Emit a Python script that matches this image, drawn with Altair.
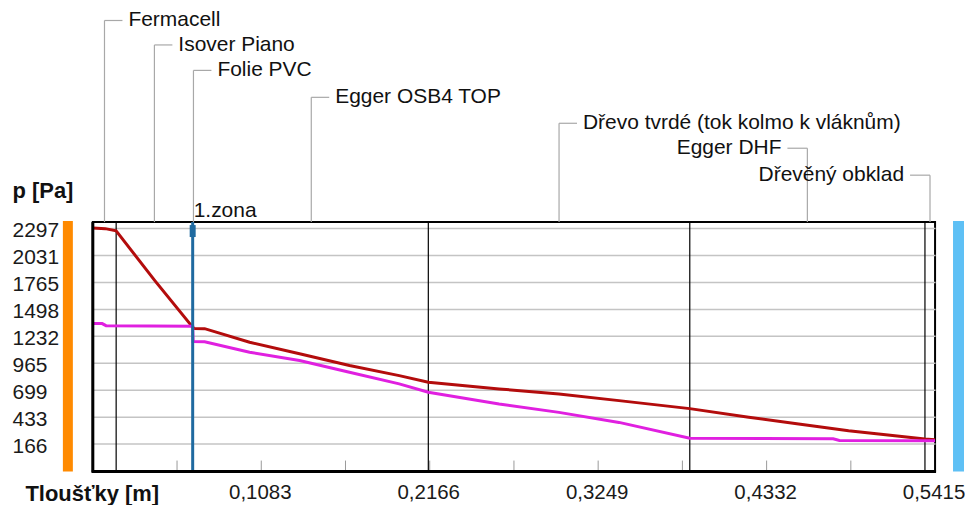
import altair as alt
import pandas as pd

# ---------------- data ----------------
layer_names = ["Fermacell", "Isover Piano", "Folie PVC", "Egger OSB4 TOP",
               "Dřevo tvrdé (tok kolmo k vláknům)", "Egger DHF", "Dřevěný obklad"]
layer_start = [0.0, 0.015, 0.0642, 0.0652, 0.2157, 0.3838, 0.5350]
layer_end = [0.015, 0.0642, 0.0652, 0.2157, 0.3838, 0.5350, 0.5415]
label_row = [-202, -177.5, -152, -125, -99, -74, -47]
label_side = ["r", "r", "r", "r", "r", "l", "l"]

boundaries = [0.015, 0.2157, 0.3838, 0.5350]
zone_x = [0.0642]
zone_label = ["1.zona"]

red_x = [0.0, 0.008, 0.015, 0.040, 0.0642, 0.0652, 0.0719, 0.1008, 0.1329, 0.165, 0.197,
         0.2157, 0.2612, 0.2997, 0.3383, 0.3838, 0.4217, 0.4538, 0.4859, 0.535, 0.5415]
red_y = [2293, 2287, 2265, 1772, 1314, 1302, 1300, 1166, 1052, 936, 837,
         772, 705, 656, 590, 511, 425, 360, 293, 211, 205]

mag_x = [0.0, 0.006, 0.0085, 0.0642, 0.0645, 0.0719, 0.1008, 0.1329, 0.165, 0.197,
         0.2157, 0.2612, 0.2997, 0.3383, 0.3838, 0.476, 0.480, 0.5415]
mag_y = [1352, 1350, 1330, 1325, 1173, 1170, 1067, 985, 870, 755,
         672, 557, 474, 375, 219, 214, 197, 195]

y_ticks = [2297, 2031, 1765, 1498, 1232, 965, 699, 433, 166]
x_labels = [0.1083, 0.2166, 0.3249, 0.4332, 0.5415]
minor_ticks = [0.05415, 0.1083, 0.16245, 0.2166, 0.27075, 0.3249, 0.37905, 0.4332, 0.48735]

# ---------------- geometry ----------------
W, H = 844, 250
XMAX = 0.5415
YDOM = [-110, 2352]
PXM = W / XMAX  # pixels per metre

FONT = "Liberation Sans"
FS = 21
GRAY = "#a8a8a8"

xs = alt.Scale(domain=[0, XMAX], nice=False, zero=False)
ys = alt.Scale(domain=YDOM, nice=False, zero=False)

XAXIS = alt.Axis(
    values=x_labels, labelExpr="replace(format(datum.value, '.4f'), '.', ',')",
    grid=False, ticks=False, domain=False, labelPadding=11, labelFontSize=20.5,
    labelOffset=-1.5,
    labelFont=FONT, labelColor="#1a1a1a", labelOverlap=False, labelFlush=False,
    title="Tloušťky [m]", titleFont="Liberation Sans", titleFontSize=22,
    titleFontWeight="bold", titleAngle=0, titleX=-68, titleY=22,
    titleAlign="left", titleBaseline="middle", titleColor="#111")
YAXIS = alt.Axis(
    values=y_ticks, format="d", grid=True, gridColor="#c4c4c4", gridWidth=1.5, ticks=False,
    domain=False, labelAlign="left", labelPadding=81, labelFontSize=FS,
    labelFont=FONT, labelColor="#1a1a1a", labelBaseline="middle", labelOffset=3,
    labelOverlap=False, labelFlush=False,
    title="p [Pa]", titleFont="Liberation Sans", titleFontSize=22,
    titleFontWeight="bold", titleAngle=0, titleX=-81, titleY=-32,
    titleAlign="left", titleBaseline="middle", titleColor="#111")


def X(field):
    return alt.X(field, scale=xs, axis=XAXIS)


base_y = alt.Y("p:Q", scale=ys, axis=YAXIS)

curves = pd.concat([
    pd.DataFrame(dict(x=red_x, p=red_y, s="psat")),
    pd.DataFrame(dict(x=mag_x, p=mag_y, s="p")),
])

layers = []

minor = alt.Chart(pd.DataFrame(dict(x=minor_ticks))).mark_rule(color="#9a9a9a", strokeWidth=1, clip=False).encode(
    x=X("x:Q"), y=alt.value(H), y2=alt.value(H - 11))
layers.append(minor)

bounds = alt.Chart(pd.DataFrame(dict(x=boundaries))).mark_rule(color="#000", strokeWidth=1.2, clip=False).encode(
    x=X("x:Q"), y=alt.value(0), y2=alt.value(H))
layers.append(bounds)

lines = alt.Chart(curves).mark_line(strokeWidth=3, interpolate="linear", clip=False).encode(
    x=X("x:Q"), y=base_y,
    color=alt.Color("s:N", scale=alt.Scale(domain=["psat", "p"], range=["#b30c0c", "#e020e0"]), legend=None),
    order=alt.Order("s:N"))
layers.append(lines)

zone_df = pd.DataFrame(dict(x=zone_x, t=zone_label))
layers.append(alt.Chart(zone_df).mark_rule(color="#1f6aa0", strokeWidth=3, clip=False).encode(
    x=X("x:Q"), y=alt.value(0), y2=alt.value(H)))
layers.append(alt.Chart(zone_df).mark_rule(color="#1f6aa0", strokeWidth=6, clip=False).encode(
    x=X("x:Q"), y=alt.value(3), y2=alt.value(15)))
layers.append(alt.Chart(zone_df).mark_text(align="left", baseline="middle", dx=1, font=FONT,
                                           fontSize=FS, color="#111", clip=False).encode(
    x=X("x:Q"), y=alt.value(-11), text="t:N"))

# annotation leaders + labels, one small layer per material
for n, s, e, r, sd in zip(layer_names, layer_start, layer_end, label_row, label_side):
    mid = (s + e) / 2
    h2 = mid + 18 / PXM if sd == "r" else mid - 20 / PXM
    d = pd.DataFrame(dict(mid=[mid], h2=[h2], name=[n]))
    c = alt.Chart(d)
    layers.append(c.mark_rule(color=GRAY, strokeWidth=1.2, clip=False).encode(
        x=X("mid:Q"), y=alt.value(r), y2=alt.value(0)))
    layers.append(c.mark_rule(color=GRAY, strokeWidth=1.2, clip=False).encode(
        x=X("mid:Q"), x2="h2:Q", y=alt.value(r)))
    if sd == "r":
        t = c.mark_text(align="left", baseline="middle", dx=24, font=FONT, fontSize=FS,
                        color="#111", clip=False)
    else:
        t = c.mark_text(align="right", baseline="middle", dx=-26, font=FONT, fontSize=FS,
                        color="#111", clip=False)
    layers.append(t.encode(x=X("mid:Q"), y=alt.value(r), text="name:N"))

# side colour bars
one = pd.DataFrame(dict(k=[0]))
layers.append(alt.Chart(one).mark_rect(color="#ff8a00", clip=False).encode(
    x=alt.value(-30), x2=alt.value(-20), y=alt.value(-1), y2=alt.value(H)))
layers.append(alt.Chart(one).mark_rect(color="#5ec0f5", clip=False).encode(
    x=alt.value(W + 18), x2=alt.value(W + 29), y=alt.value(-1), y2=alt.value(H)))

# thicker left/bottom frame
layers.append(alt.Chart(one).mark_rule(color="#000", strokeWidth=3, clip=False).encode(
    x=alt.value(0), y=alt.value(0), y2=alt.value(H + 1)))
layers.append(alt.Chart(one).mark_rule(color="#000", strokeWidth=3, clip=False).encode(
    x=alt.value(-1), x2=alt.value(W + 1), y=alt.value(H)))

chart = alt.layer(*layers).properties(
    width=W, height=H,
    padding={"left": 85, "top": 214, "right": 30, "bottom": 33},
    autosize=alt.AutoSizeParams(type="none"),
).configure_view(stroke="#000", strokeWidth=2)

chart.save("out.html", embed_options={"renderer": "svg", "actions": False})
